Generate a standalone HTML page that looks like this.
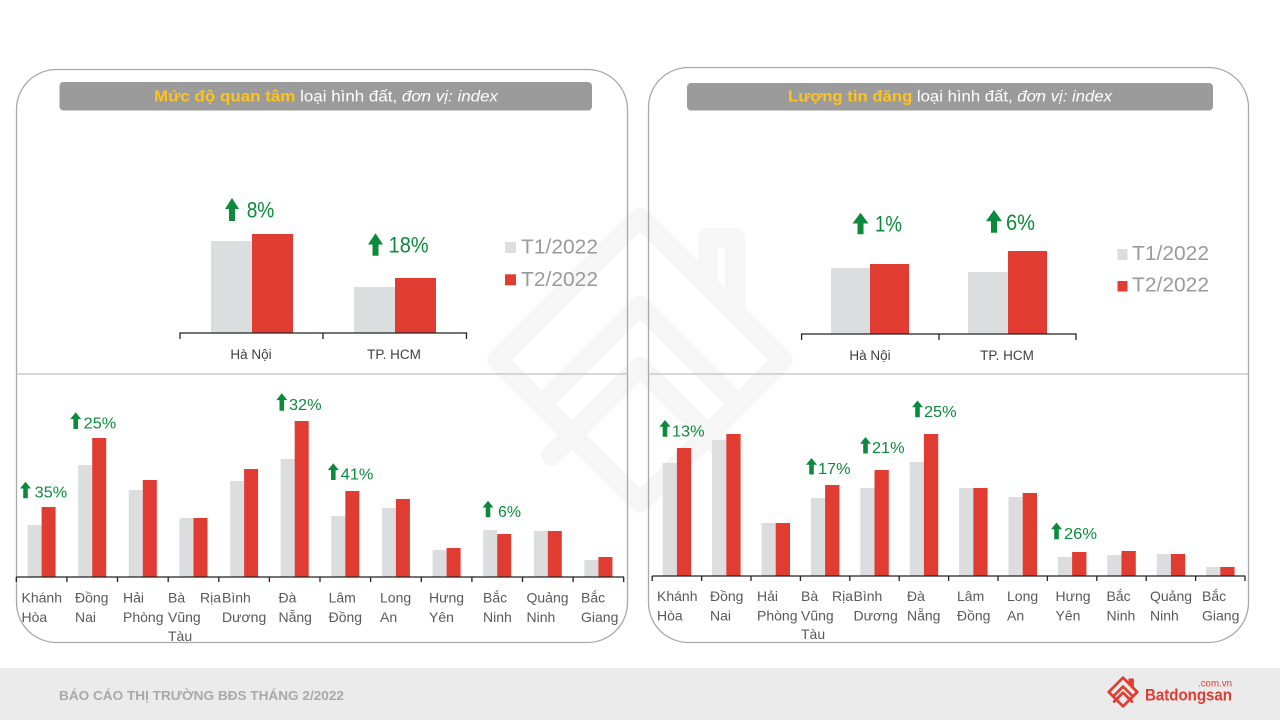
<!DOCTYPE html>
<html>
<head>
<meta charset="utf-8">
<style>
html,body{margin:0;padding:0;background:#fff;}
svg{display:block;}
text{font-family:"Liberation Sans","Noto Sans CJK SC",sans-serif;}
</style>
</head>
<body>
<svg width="1280" height="720" viewBox="0 0 1280 720" xmlns="http://www.w3.org/2000/svg">
<rect x="0" y="0" width="1280" height="720" fill="#ffffff"/>

<!-- watermark -->
<g transform="translate(470,190) scale(3.4)" fill="none" stroke="#f6f6f6" stroke-width="6" stroke-linejoin="round" stroke-linecap="round">
  <path d="M50 8 L92 50 L50 92 L8 50 Z"/>
  <path d="M70 28 L70 14 L78 14 L78 36"/>
  <path d="M24 60 L50 34 L76 60"/>
  <path d="M24 78 L50 52 L76 78"/>
</g>

<!-- panels -->
<rect x="16.5" y="69.5" width="611" height="573" rx="40" ry="40" fill="none" stroke="#a8a8a8" stroke-width="1.3"/>
<rect x="648.5" y="67.5" width="600" height="575" rx="40" ry="40" fill="none" stroke="#a8a8a8" stroke-width="1.3"/>
<line x1="16.5" y1="374" x2="627.5" y2="374" stroke="#c0c0c0" stroke-width="1.3"/>
<line x1="648.5" y1="374" x2="1248.5" y2="374" stroke="#c0c0c0" stroke-width="1.3"/>

<!-- title bars -->
<rect x="59.5" y="82" width="532.5" height="28.5" rx="4" fill="#9b9b9c"/>
<rect x="687" y="83" width="526" height="27.5" rx="4" fill="#9b9b9c"/>
<text x="154" y="101.7" font-size="15.5" textLength="344" lengthAdjust="spacingAndGlyphs" fill="#ffffff"><tspan fill="#ffc31a" font-weight="bold">Mức độ quan tâm</tspan> loại hình đất, <tspan font-style="italic">đơn vị: index</tspan></text>
<text x="788" y="101.7" font-size="15.5" textLength="324" lengthAdjust="spacingAndGlyphs" fill="#ffffff"><tspan fill="#ffc31a" font-weight="bold">Lượng tin đăng</tspan> loại hình đất, <tspan font-style="italic">đơn vị: index</tspan></text>

<!-- ===== top-left chart ===== -->
<g>
  <rect x="211" y="241" width="41" height="92" fill="#dcdddf"/>
  <rect x="252" y="234" width="41" height="99" fill="#e03c31"/>
  <rect x="354" y="287" width="41" height="46" fill="#dcdddf"/>
  <rect x="395" y="278" width="41" height="55" fill="#e03c31"/>
  <path d="M180 339 L180 333 L466.5 333 L466.5 339 M323 333 L323 339" fill="none" stroke="#222" stroke-width="1.3"/>
  <text x="251" y="359" font-size="13.5" fill="#404040" text-anchor="middle">Hà Nội</text>
  <text x="394" y="359" font-size="13.5" fill="#404040" text-anchor="middle">TP. HCM</text>
  <!-- arrows -->
  <path d="M232 198 L239 209 L235 209 L235 221 L229 221 L229 209 L225 209 Z" fill="#0b8a3b"/>
  <text x="246.7" y="217.7" font-size="22" fill="#0b8a3b" textLength="27.6" lengthAdjust="spacingAndGlyphs">8%</text>
  <path d="M375.5 233.3 L383 244.5 L378.5 244.5 L378.5 255.7 L372.5 255.7 L372.5 244.5 L368 244.5 Z" fill="#0b8a3b"/>
  <text x="388.6" y="252.3" font-size="22" fill="#0b8a3b" textLength="40" lengthAdjust="spacingAndGlyphs">18%</text>
  <!-- legend -->
  <rect x="505" y="242" width="11" height="11" fill="#dcdddf"/>
  <rect x="505" y="274.3" width="11" height="11" fill="#e03c31"/>
  <text x="521" y="253.3" font-size="20" fill="#9a9a9a" textLength="77" lengthAdjust="spacingAndGlyphs">T1/2022</text>
  <text x="521" y="286" font-size="20" fill="#9a9a9a" textLength="77" lengthAdjust="spacingAndGlyphs">T2/2022</text>
</g>

<!-- ===== top-right chart ===== -->
<g>
  <rect x="831" y="268" width="39" height="66" fill="#dcdddf"/>
  <rect x="870" y="264" width="39" height="70" fill="#e03c31"/>
  <rect x="968" y="272" width="40" height="62" fill="#dcdddf"/>
  <rect x="1008" y="251" width="39" height="83" fill="#e03c31"/>
  <path d="M801.6 340 L801.6 334 L1076 334 L1076 340 M939 334 L939 340" fill="none" stroke="#222" stroke-width="1.3"/>
  <text x="870" y="360" font-size="13.5" fill="#404040" text-anchor="middle">Hà Nội</text>
  <text x="1007" y="360" font-size="13.5" fill="#404040" text-anchor="middle">TP. HCM</text>
  <path d="M860.5 212.7 L868.5 223.5 L863.5 223.5 L863.5 234.3 L857.5 234.3 L857.5 223.5 L852.5 223.5 Z" fill="#0b8a3b"/>
  <text x="875" y="231.7" font-size="22" fill="#0b8a3b" textLength="27" lengthAdjust="spacingAndGlyphs">1%</text>
  <path d="M994 210 L1002 221.3 L997 221.3 L997 232.7 L991 232.7 L991 221.3 L986 221.3 Z" fill="#0b8a3b"/>
  <text x="1006" y="230" font-size="22" fill="#0b8a3b" textLength="29" lengthAdjust="spacingAndGlyphs">6%</text>
  <rect x="1117.5" y="249" width="10" height="11" fill="#dcdddf"/>
  <rect x="1117.5" y="281" width="10" height="10.5" fill="#e03c31"/>
  <text x="1132" y="260" font-size="20" fill="#9a9a9a" textLength="77" lengthAdjust="spacingAndGlyphs">T1/2022</text>
  <text x="1132" y="291.7" font-size="20" fill="#9a9a9a" textLength="77" lengthAdjust="spacingAndGlyphs">T2/2022</text>
</g>

<!-- ===== bottom-left chart ===== -->
<g>
  <rect x="27.6" y="525" width="14" height="52" fill="#dcdddf"/><rect x="41.6" y="507" width="14" height="70" fill="#e03c31"/>
  <rect x="78.2" y="465" width="14" height="112" fill="#dcdddf"/><rect x="92.2" y="438" width="14" height="139" fill="#e03c31"/>
  <rect x="128.8" y="490" width="14" height="87" fill="#dcdddf"/><rect x="142.8" y="480" width="14" height="97" fill="#e03c31"/>
  <rect x="179.5" y="518" width="14" height="59" fill="#dcdddf"/><rect x="193.5" y="518" width="14" height="59" fill="#e03c31"/>
  <rect x="230.1" y="481" width="14" height="96" fill="#dcdddf"/><rect x="244.1" y="469" width="14" height="108" fill="#e03c31"/>
  <rect x="280.7" y="459" width="14" height="118" fill="#dcdddf"/><rect x="294.7" y="421" width="14" height="156" fill="#e03c31"/>
  <rect x="331.3" y="516" width="14" height="61" fill="#dcdddf"/><rect x="345.3" y="491" width="14" height="86" fill="#e03c31"/>
  <rect x="381.9" y="508" width="14" height="69" fill="#dcdddf"/><rect x="395.9" y="499" width="14" height="78" fill="#e03c31"/>
  <rect x="432.6" y="550" width="14" height="27" fill="#dcdddf"/><rect x="446.6" y="548" width="14" height="29" fill="#e03c31"/>
  <rect x="483.2" y="530" width="14" height="47" fill="#dcdddf"/><rect x="497.2" y="534" width="14" height="43" fill="#e03c31"/>
  <rect x="533.8" y="531" width="14" height="46" fill="#dcdddf"/><rect x="547.8" y="531" width="14" height="46" fill="#e03c31"/>
  <rect x="584.4" y="560" width="14" height="17" fill="#dcdddf"/><rect x="598.4" y="557" width="14" height="20" fill="#e03c31"/>
  <path d="M16.3 577 L624 577
           M16.3 577 L16.3 582 M66.9 577 L66.9 582 M117.5 577 L117.5 582 M168.2 577 L168.2 582
           M218.8 577 L218.8 582 M269.4 577 L269.4 582 M320 577 L320 582 M370.6 577 L370.6 582
           M421.3 577 L421.3 582 M471.9 577 L471.9 582 M522.5 577 L522.5 582 M573.1 577 L573.1 582 M623.7 577 L623.7 582"
        fill="none" stroke="#222" stroke-width="1.3"/>
  <g font-size="14" fill="#595959">
    <text x="21.5" y="602.3">Khánh</text><text x="21.5" y="622">Hòa</text>
    <text x="75" y="602.3">Đồng</text><text x="75" y="622">Nai</text>
    <text x="123" y="602.3">Hải</text><text x="123" y="622">Phòng</text>
    <text x="168" y="602.3">Bà</text><text x="200" y="602.3">Rịa</text><text x="168" y="622">Vũng</text><text x="168" y="641">Tàu</text>
    <text x="222" y="602.3">Bình</text><text x="222" y="622">Dương</text>
    <text x="278.5" y="602.3">Đà</text><text x="278.5" y="622">Nẵng</text>
    <text x="328.6" y="602.3">Lâm</text><text x="328.6" y="622">Đồng</text>
    <text x="380" y="602.3">Long</text><text x="380" y="622">An</text>
    <text x="429" y="602.3">Hưng</text><text x="429" y="622">Yên</text>
    <text x="483" y="602.3">Bắc</text><text x="483" y="622">Ninh</text>
    <text x="526.5" y="602.3">Quảng</text><text x="526.5" y="622">Ninh</text>
    <text x="581" y="602.3">Bắc</text><text x="581" y="622">Giang</text>
  </g>
  <g fill="#0b8a3b">
    <path d="M25.5 481.7 L31 488.5 L27.8 488.5 L27.8 498.3 L23.2 498.3 L23.2 488.5 L20 488.5 Z"/>
    <text x="34.7" y="497.5" font-size="16" textLength="32.6" lengthAdjust="spacingAndGlyphs">35%</text>
    <path d="M75.7 412.3 L81.2 419.1 L78 419.1 L78 429 L73.4 429 L73.4 419.1 L70.2 419.1 Z"/>
    <text x="83.7" y="428.5" font-size="16" textLength="32.6" lengthAdjust="spacingAndGlyphs">25%</text>
    <path d="M281.8 393.3 L287.3 400.1 L284.1 400.1 L284.1 410.7 L279.5 410.7 L279.5 400.1 L276.3 400.1 Z"/>
    <text x="289" y="410" font-size="16" textLength="32.6" lengthAdjust="spacingAndGlyphs">32%</text>
    <path d="M333.3 463.3 L338.8 470.1 L335.6 470.1 L335.6 480 L331 480 L331 470.1 L327.8 470.1 Z"/>
    <text x="340.8" y="479.5" font-size="16" textLength="32.6" lengthAdjust="spacingAndGlyphs">41%</text>
    <path d="M488 500.7 L493.5 507.5 L490.3 507.5 L490.3 517.3 L485.7 517.3 L485.7 507.5 L482.5 507.5 Z"/>
    <text x="498" y="517" font-size="16" textLength="23" lengthAdjust="spacingAndGlyphs">6%</text>
  </g>
</g>

<!-- ===== bottom-right chart ===== -->
<g>
  <rect x="662.7" y="463" width="14.2" height="113" fill="#dcdddf"/><rect x="676.9" y="448" width="14.3" height="128" fill="#e03c31"/>
  <rect x="712.1" y="440" width="14.2" height="136" fill="#dcdddf"/><rect x="726.3" y="434" width="14.3" height="142" fill="#e03c31"/>
  <rect x="761.5" y="523" width="14.2" height="53" fill="#dcdddf"/><rect x="775.7" y="523" width="14.3" height="53" fill="#e03c31"/>
  <rect x="810.9" y="498" width="14.2" height="78" fill="#dcdddf"/><rect x="825.1" y="485" width="14.3" height="91" fill="#e03c31"/>
  <rect x="860.3" y="488" width="14.2" height="88" fill="#dcdddf"/><rect x="874.5" y="470" width="14.3" height="106" fill="#e03c31"/>
  <rect x="909.7" y="462" width="14.2" height="114" fill="#dcdddf"/><rect x="923.9" y="434" width="14.3" height="142" fill="#e03c31"/>
  <rect x="959.1" y="488" width="14.2" height="88" fill="#dcdddf"/><rect x="973.3" y="488" width="14.3" height="88" fill="#e03c31"/>
  <rect x="1008.5" y="497" width="14.2" height="79" fill="#dcdddf"/><rect x="1022.7" y="493" width="14.3" height="83" fill="#e03c31"/>
  <rect x="1057.9" y="557" width="14.2" height="19" fill="#dcdddf"/><rect x="1072.1" y="552" width="14.3" height="24" fill="#e03c31"/>
  <rect x="1107.3" y="555" width="14.2" height="21" fill="#dcdddf"/><rect x="1121.5" y="551" width="14.3" height="25" fill="#e03c31"/>
  <rect x="1156.7" y="554" width="14.2" height="22" fill="#dcdddf"/><rect x="1170.9" y="554" width="14.3" height="22" fill="#e03c31"/>
  <rect x="1206.1" y="567" width="14.2" height="9" fill="#dcdddf"/><rect x="1220.3" y="567" width="14.3" height="9" fill="#e03c31"/>
  <path d="M652.2 576 L1245.3 576
           M652.2 576 L652.2 581 M701.6 576 L701.6 581 M751 576 L751 581 M800.4 576 L800.4 581
           M849.8 576 L849.8 581 M899.2 576 L899.2 581 M948.6 576 L948.6 581 M998 576 L998 581
           M1047.4 576 L1047.4 581 M1096.8 576 L1096.8 581 M1146.2 576 L1146.2 581 M1195.6 576 L1195.6 581 M1245 576 L1245 581"
        fill="none" stroke="#222" stroke-width="1.3"/>
  <g font-size="14" fill="#595959">
    <text x="657" y="601">Khánh</text><text x="657" y="620.7">Hòa</text>
    <text x="710" y="601">Đồng</text><text x="710" y="620.7">Nai</text>
    <text x="757" y="601">Hải</text><text x="757" y="620.7">Phòng</text>
    <text x="801" y="601">Bà</text><text x="832" y="601">Rịa</text><text x="801" y="620.7">Vũng</text><text x="801" y="639">Tàu</text>
    <text x="853.5" y="601">Bình</text><text x="853.5" y="620.7">Dương</text>
    <text x="907" y="601">Đà</text><text x="907" y="620.7">Nẵng</text>
    <text x="957" y="601">Lâm</text><text x="957" y="620.7">Đồng</text>
    <text x="1007" y="601">Long</text><text x="1007" y="620.7">An</text>
    <text x="1055.5" y="601">Hưng</text><text x="1055.5" y="620.7">Yên</text>
    <text x="1106.5" y="601">Bắc</text><text x="1106.5" y="620.7">Ninh</text>
    <text x="1150" y="601">Quảng</text><text x="1150" y="620.7">Ninh</text>
    <text x="1202" y="601">Bắc</text><text x="1202" y="620.7">Giang</text>
  </g>
  <g fill="#0b8a3b">
    <path d="M665 420 L670.5 426.8 L667.3 426.8 L667.3 436.7 L662.7 436.7 L662.7 426.8 L659.5 426.8 Z"/>
    <text x="672" y="436.5" font-size="16" textLength="32.6" lengthAdjust="spacingAndGlyphs">13%</text>
    <path d="M811.5 458 L817 464.8 L813.8 464.8 L813.8 474.5 L809.2 474.5 L809.2 464.8 L806 464.8 Z"/>
    <text x="818" y="474" font-size="16" textLength="32.6" lengthAdjust="spacingAndGlyphs">17%</text>
    <path d="M865.5 437 L871 443.8 L867.8 443.8 L867.8 453.5 L863.2 453.5 L863.2 443.8 L860 443.8 Z"/>
    <text x="872" y="453" font-size="16" textLength="32.6" lengthAdjust="spacingAndGlyphs">21%</text>
    <path d="M917.5 400.5 L923 407.3 L919.8 407.3 L919.8 417.3 L915.2 417.3 L915.2 407.3 L912 407.3 Z"/>
    <text x="924" y="417" font-size="16" textLength="32.6" lengthAdjust="spacingAndGlyphs">25%</text>
    <path d="M1056.5 522.5 L1062 529.3 L1058.8 529.3 L1058.8 539.3 L1054.2 539.3 L1054.2 529.3 L1051 529.3 Z"/>
    <text x="1064" y="539" font-size="16" textLength="33" lengthAdjust="spacingAndGlyphs">26%</text>
  </g>
</g>

<!-- footer -->
<rect x="0" y="668" width="1280" height="52" fill="#ebebeb"/>
<text x="59" y="700" font-size="13" font-weight="bold" fill="#a9a9a9" textLength="285" lengthAdjust="spacingAndGlyphs">BÁO CÁO THỊ TRƯỜNG BĐS THÁNG 2/2022</text>
<g transform="translate(1106,675) scale(0.34)" fill="none" stroke="#e03c31" stroke-width="8" stroke-linejoin="round" stroke-linecap="round">
  <path d="M50 8 L92 50 L50 92 L8 50 Z"/>
  <path d="M70 28 L70 14 L78 14 L78 36"/>
  <path d="M24 60 L50 34 L76 60"/>
  <path d="M24 78 L50 52 L76 78"/>
</g>
<text x="1198" y="686.7" font-size="10" fill="#e03c31" textLength="34" lengthAdjust="spacingAndGlyphs">.com.vn</text>
<text x="1145" y="700.7" font-size="17" font-weight="bold" fill="#e03c31" textLength="87" lengthAdjust="spacingAndGlyphs">Batdongsan</text>
</svg>
</body>
</html>
